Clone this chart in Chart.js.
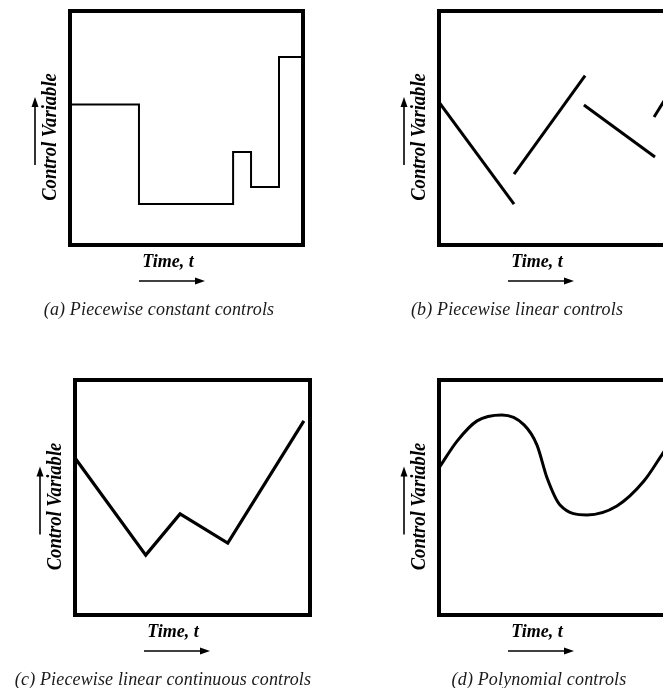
<!DOCTYPE html>
<html lang="en">
<head>
<meta charset="UTF-8">
<title>Control parameterisation types</title>
<script src="https://cdn.jsdelivr.net/npm/chart.js"></script>
<style>
  html, body { margin: 0; padding: 0; background: #fff; overflow: hidden; width: 663px; height: 688px; }
  canvas { position: absolute; }
</style>
</head>
<body>
<canvas id="chartA" width="331" height="335" style="left:0;top:0"></canvas>
<canvas id="chartB" width="350" height="335" style="left:331px;top:0"></canvas>
<canvas id="chartC" width="331" height="348" style="left:0;top:340px"></canvas>
<canvas id="chartD" width="350" height="348" style="left:331px;top:340px"></canvas>
<script>
// time runs 0..100 across each box, control variable 0..100 from bottom to top

// (a) piecewise constant
const constTimes  = [0, 29.6, 70, 77.7, 89.7, 100];
const constValues = [60, 17.5, 39.7, 24.8, 80.3, 80.3];

// (b) piecewise linear, one segment per interval
const linStartT = [0, 32.2, 62.2, 92.3];
const linStartV = [61, 30.3, 59.8, 54.7];
const linEndT   = [32.2, 62.7, 92.7, 97.5];
const linEndV   = [17.5, 72.4, 37.6, 63];

// (c) piecewise linear continuous
const contTimes  = [0, 30.1, 44.7, 65.0, 97.4];
const contValues = [66.8, 25.5, 43.0, 30.6, 82.6];

// (d) polynomial
const polyTimes  = [0, 7.7, 16.2, 26.8, 36.2, 41.7, 46.0, 51.5, 63.0, 75.7, 87.2, 95.3, 100];
const polyValues = [62.6, 74.0, 82.6, 85.1, 80.9, 72.3, 58.3, 46.8, 42.6, 46.4, 57.0, 68.9, 76];

const captions = [
  '(a) Piecewise constant controls',
  '(b) Piecewise linear controls',
  '(c) Piecewise linear continuous controls',
  '(d) Polynomial controls'
];

function toPoints(xs, ys) {
  return xs.map((x, i) => ({ x: x, y: ys[i] }));
}

function arrow(ctx, x1, y1, x2, y2) {
  const ang = Math.atan2(y2 - y1, x2 - x1);
  ctx.beginPath();
  ctx.moveTo(x1, y1);
  ctx.lineTo(x2 - 8 * Math.cos(ang), y2 - 8 * Math.sin(ang));
  ctx.lineWidth = 1.6;
  ctx.stroke();
  ctx.beginPath();
  ctx.moveTo(x2, y2);
  ctx.lineTo(x2 - 10 * Math.cos(ang) + 3.5 * Math.sin(ang), y2 - 10 * Math.sin(ang) - 3.5 * Math.cos(ang));
  ctx.lineTo(x2 - 10 * Math.cos(ang) - 3.5 * Math.sin(ang), y2 - 10 * Math.sin(ang) + 3.5 * Math.cos(ang));
  ctx.closePath();
  ctx.fill();
}

// box, axis labels, arrows and caption around the plot area
const panelDecor = {
  id: 'panelDecor',
  afterDatasetsDraw(chart, args, opts) {
    const ctx = chart.ctx;
    const a = chart.chartArea;
    const cy = (a.top + a.bottom) / 2;
    ctx.save();
    ctx.strokeStyle = '#000';
    ctx.fillStyle = '#000';
    ctx.lineWidth = 4;
    ctx.strokeRect(a.left, a.top, a.width, a.height);

    ctx.textAlign = 'center';
    ctx.textBaseline = 'middle';
    ctx.font = 'italic bold 20px "Liberation Serif"';
    ctx.save();
    ctx.translate(a.left - 19, cy + 9);
    ctx.rotate(-Math.PI / 2);
    ctx.scale(0.93, 1);
    ctx.fillText('Control Variable', 0, 0);
    ctx.restore();
    ctx.font = 'italic bold 18px "Liberation Serif"';
    ctx.fillText('Time, t', a.left + 98, a.bottom + 17);

    arrow(ctx, a.left - 35, cy + 37, a.left - 35, cy - 31);
    arrow(ctx, a.left + 69, a.bottom + 36, a.left + 135, a.bottom + 36);

    ctx.fillStyle = '#1a1a1a';
    ctx.font = 'italic 18px "Liberation Serif"';
    ctx.letterSpacing = '0.15px';
    ctx.fillText(opts.caption, a.left + opts.captionX, a.bottom + 65);
    ctx.restore();
  }
};

function makePanel(id, datasets, caption, captionX, pad) {
  return new Chart(document.getElementById(id), {
    type: 'line',
    data: { datasets: datasets },
    options: {
      responsive: false,
      animation: false,
      layout: { padding: pad },
      elements: { point: { radius: 0 } },
      scales: {
        x: { type: 'linear', min: 0, max: 100, display: false },
        y: { type: 'linear', min: 0, max: 100, display: false }
      },
      plugins: {
        legend: { display: false },
        tooltip: { enabled: false },
        panelDecor: { caption: caption, captionX: captionX }
      }
    },
    plugins: [panelDecor]
  });
}

makePanel('chartA', [{
  data: toPoints(constTimes, constValues),
  borderColor: '#000', borderWidth: 2, stepped: true
}], captions[0], 89, { left: 70, top: 11, right: 28, bottom: 90 });

makePanel('chartB', linStartT.map((t, i) => ({
  data: [{ x: t, y: linStartV[i] }, { x: linEndT[i], y: linEndV[i] }],
  borderColor: '#000', borderWidth: 3
})), captions[1], 78, { left: 108, top: 11, right: 9, bottom: 90 });

makePanel('chartC', [{
  data: toPoints(contTimes, contValues),
  borderColor: '#000', borderWidth: 3.2, tension: 0
}], captions[2], 88, { left: 75, top: 40, right: 21, bottom: 73 });

makePanel('chartD', [{
  data: toPoints(polyTimes, polyValues),
  borderColor: '#000', borderWidth: 3, cubicInterpolationMode: 'monotone'
}], captions[3], 100, { left: 108, top: 40, right: 7, bottom: 73 });
</script>
</body>
</html>
